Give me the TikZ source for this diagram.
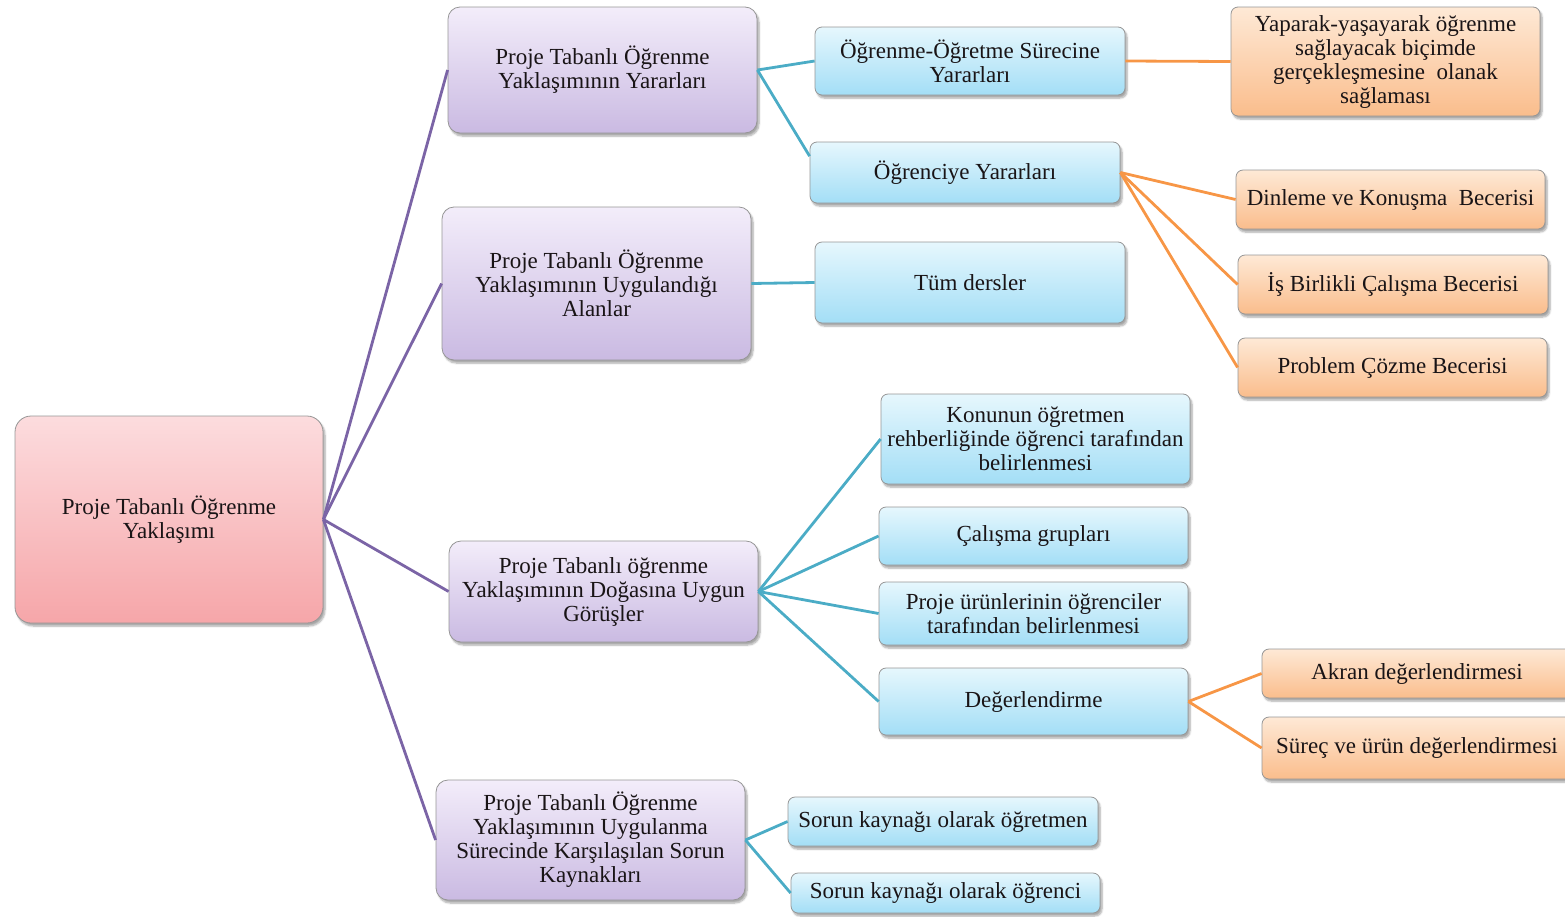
\documentclass[tikz,border=0pt]{standalone}
\usepackage{fontspec}
\setmainfont{Liberation Serif}
\usetikzlibrary{shadows.blur}

\definecolor{rootTop}{RGB}{252,220,222}
\definecolor{rootBot}{RGB}{246,166,169}
\definecolor{topicTop}{RGB}{243,237,250}
\definecolor{topicBot}{RGB}{202,186,226}
\definecolor{subTop}{RGB}{230,247,253}
\definecolor{subBot}{RGB}{163,222,246}
\definecolor{leafTop}{RGB}{254,233,214}
\definecolor{leafBot}{RGB}{250,189,140}
\definecolor{linkRoot}{RGB}{123,100,166}
\definecolor{linkSub}{RGB}{75,172,198}
\definecolor{linkLeaf}{RGB}{247,150,70}
\definecolor{boxEdge}{RGB}{150,150,150}
\definecolor{ink}{RGB}{25,20,22}

\tikzset{
  box/.style={draw=boxEdge, line width=0.8pt, rounded corners=7pt, align=center,
    font=\fontsize{23}{24}\selectfont, text=ink, inner sep=2pt,
    blur shadow={shadow xshift=2pt, shadow yshift=-3pt, shadow blur steps=6, shadow opacity=35}},
  rootbox/.style={box, top color=rootTop, bottom color=rootBot, rounded corners=16pt},
  topicbox/.style={box, top color=topicTop, bottom color=topicBot, rounded corners=12pt},
  subbox/.style={box, top color=subTop, bottom color=subBot},
  leafbox/.style={box, top color=leafTop, bottom color=leafBot},
  rootlink/.style={draw=linkRoot, line width=2.8pt},
  sublink/.style={draw=linkSub, line width=2.8pt},
  leaflink/.style={draw=linkLeaf, line width=2.8pt},
}

\begin{document}
\begin{tikzpicture}[x=1pt, y=-1pt]
\useasboundingbox (0,0) rectangle (1565,916);

% root
\node[rootbox, minimum width=308, minimum height=207] (root) at (169,519.5)
  {Proje Tabanlı Öğrenme\\Yaklaşımı};

% main topics
\node[topicbox, minimum width=309, minimum height=126] (t1) at (602.5,70)
  {Proje Tabanlı Öğrenme\\Yaklaşımının Yararları};
\node[topicbox, minimum width=309, minimum height=153] (t2) at (596.5,283.5)
  {Proje Tabanlı Öğrenme\\Yaklaşımının Uygulandığı\\Alanlar};
\node[topicbox, minimum width=309, minimum height=101] (t3) at (603.5,591.5)
  {Proje Tabanlı öğrenme\\Yaklaşımının Doğasına Uygun\\Görüşler};
\node[topicbox, minimum width=309, minimum height=120] (t4) at (590.5,840)
  {Proje Tabanlı Öğrenme\\Yaklaşımının Uygulanma\\Sürecinde Karşılaşılan Sorun\\Kaynakları};

% second level
\node[subbox, minimum width=310, minimum height=68] (s1) at (970,61)
  {Öğrenme-Öğretme Sürecine\\Yararları};
\node[subbox, minimum width=310, minimum height=61] (s2) at (965,172.5)
  {Öğrenciye Yararları};
\node[subbox, minimum width=310, minimum height=81] (s3) at (970,282.5)
  {Tüm dersler};
\node[subbox, minimum width=309, minimum height=90] (s4) at (1035.5,439)
  {Konunun öğretmen\\rehberliğinde öğrenci tarafından\\belirlenmesi};
\node[subbox, minimum width=309, minimum height=58] (s5) at (1033.5,536)
  {Çalışma grupları};
\node[subbox, minimum width=309, minimum height=63] (s6) at (1033.5,613.5)
  {Proje ürünlerinin öğrenciler\\tarafından belirlenmesi};
\node[subbox, minimum width=309, minimum height=67] (s7) at (1033.5,701.5)
  {Değerlendirme};
\node[subbox, minimum width=310, minimum height=49] (s8) at (943,821.5)
  {Sorun kaynağı olarak öğretmen};
\node[subbox, minimum width=309, minimum height=40] (s9) at (945.5,893)
  {Sorun kaynağı olarak öğrenci};

% third level
\node[leafbox, minimum width=309, minimum height=109] (l1) at (1385.5,61.5)
  {Yaparak-yaşayarak öğrenme\\sağlayacak biçimde\\gerçekleşmesine\ \ olanak\\sağlaması};
\node[leafbox, minimum width=309, minimum height=59] (l2) at (1390.5,199.5)
  {Dinleme ve Konuşma\ \ Becerisi};
\node[leafbox, minimum width=310, minimum height=59] (l3) at (1393,284.5)
  {İş Birlikli Çalışma Becerisi};
\node[leafbox, minimum width=309, minimum height=59] (l4) at (1392.5,367.5)
  {Problem Çözme Becerisi};
\node[leafbox, minimum width=310, minimum height=49] (l5) at (1417,673.5)
  {Akran değerlendirmesi};
\node[leafbox, minimum width=310, minimum height=62] (l6) at (1417,748)
  {Süreç ve ürün değerlendirmesi};

% connectors
\foreach \t in {t1,t2,t3,t4}
  \path[rootlink] (root.east) -- (\t.west);
\path[sublink] (t1.east) -- (s1.west);
\path[sublink] (t1.east) -- (s2.174);
\path[sublink] (t2.east) -- (s3.west);
\foreach \s in {s4,s5,s6,s7}
  \path[sublink] (t3.east) -- (\s.west);
\path[sublink] (t4.east) -- (s8.west);
\path[sublink] (t4.east) -- (s9.west);
\path[leaflink] (s1.east) -- (l1.west);
\foreach \l in {l2,l3,l4}
  \path[leaflink] (s2.east) -- (\l.west);
\path[leaflink] (s7.east) -- (l5.west);
\path[leaflink] (s7.east) -- (l6.west);
\end{tikzpicture}
\end{document}
